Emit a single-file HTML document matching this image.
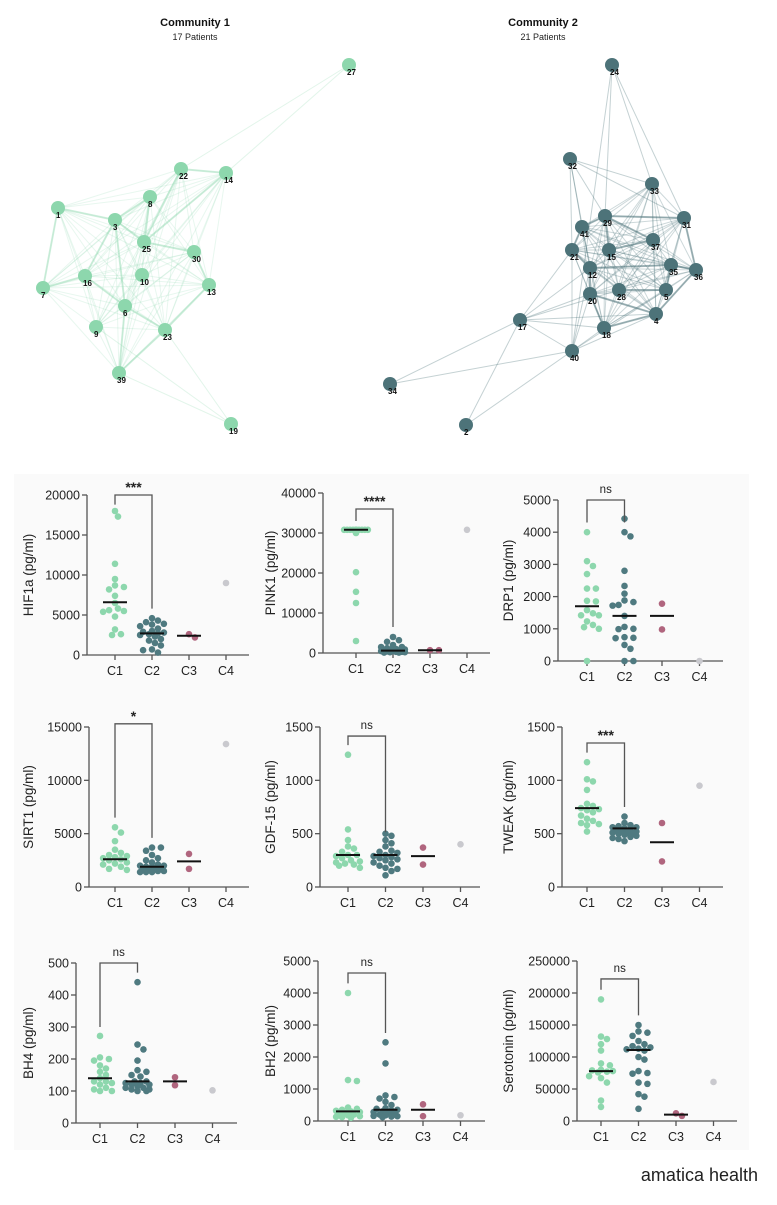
<!DOCTYPE html>
<html><head><meta charset="utf-8">
<style>
html,body{margin:0;padding:0;background:#fff;}
body{width:777px;height:1200px;overflow:hidden;font-family:"Liberation Sans",sans-serif;}
svg text{font-family:"Liberation Sans",sans-serif;}
</style></head>
<body>
<svg id="fig" width="777" height="1200" viewBox="0 0 777 1200" xmlns="http://www.w3.org/2000/svg">
<rect x="0" y="0" width="777" height="1200" fill="#ffffff"/>
<rect x="14" y="474" width="735" height="676" fill="#fafafa"/>
<g id="net"></g>
<g id="plots"></g>
<text x="758" y="1181" text-anchor="end" font-size="18" fill="#222">amatica health</text>
</svg>
<script>
// ---------- network data ----------
const c1Nodes=[["27",349,65],["22",181,169],["14",226,173],["1",58,208],["8",150,197],["3",115,220],["25",144,242],["30",194,252],["10",142,275],["16",85,276],["7",43,288],["13",209,285],["6",125,306],["9",96,327],["23",165,330],["39",119,373],["19",231,424]];
const c1Core=["22","14","1","8","3","25","30","10","16","7","13","6","9","23","39"];
const c1Strong=[["22","14"],["1","7"],["3","8"],["3","25"],["25","30"],["16","6"],["6","23"],["23","13"],["3","16"],["39","23"],["39","6"],["1","3"],["22","25"],["14","25"],["7","16"],["30","13"],["3","6"],["8","25"]];
const c1Extra=[["27","22"],["27","14"],["19","39"],["19","23"],["19","9"]];
const c2Nodes=[["24",612,65],["32",570,159],["33",652,184],["31",684,218],["29",605,216],["41",582,227],["15",609,250],["37",653,240],["21",572,250],["12",590,268],["35",671,265],["36",696,270],["20",590,294],["28",619,290],["5",666,290],["4",656,314],["18",604,328],["17",520,320],["40",572,351],["34",390,384],["2",466,425]];
const c2Core=["29","41","15","37","21","12","35","36","20","28","5","4","18","31","33"];
const c2Strong=[["29","31"],["31","36"],["36","4"],["35","36"],["12","20"],["20","18"],["18","4"],["29","15"],["21","12"],["41","21"],["15","37"],["28","5"],["5","35"],["12","35"],["29","37"],["20","4"],["41","29"]];
const c2Extra=[["32","41"],["32","21"],["32","29"],["32","33"],["32","31"],["32","12"],["24","33"],["24","31"],["24","29"],["24","40"],["17","21"],["17","12"],["17","20"],["17","18"],["17","40"],["17","4"],["17","28"],["40","20"],["40","18"],["40","4"],["40","5"],["40","12"],["40","21"],["34","17"],["34","40"],["2","17"],["2","40"]];

const NS="http://www.w3.org/2000/svg";
function mk(tag,attrs,parent){const e=document.createElementNS(NS,tag);for(const k in attrs)e.setAttribute(k,attrs[k]);parent.appendChild(e);return e;}

function drawNet(nodes,core,strong,extra,col,idx,cx,count,baseOp){
  const g=mk('g',{},document.getElementById('net'));
  
  
  const pos={};nodes.forEach(n=>pos[n[0]]=[n[1],n[2]]);
  const eg=mk('g',{},g);
  function edge(a,b,w,o){const l=mk('line',{x1:pos[a][0],y1:pos[a][1],x2:pos[b][0],y2:pos[b][1],stroke:col,'stroke-width':w,'stroke-opacity':o},eg);
    
    }
  for(let i=0;i<core.length;i++)for(let j=i+1;j<core.length;j++)edge(core[i],core[j],1,baseOp);
  extra.forEach(e=>edge(e[0],e[1],1,baseOp+0.05));
  strong.forEach(e=>edge(e[0],e[1],2,baseOp+0.2));
  nodes.forEach(n=>{
    const c=mk('circle',{cx:n[1],cy:n[2],r:7,fill:col},g);
    
    
    const t=mk('text',{x:n[1]-2,y:n[2]+10,'font-size':8,'font-weight':'bold',fill:'#111'},g);
    t.textContent=n[0];
    
    
  });
  const t1=mk('text',{x:cx,y:26,'text-anchor':'middle','font-size':11,'font-weight':'bold',fill:'#111'},g);
  t1.textContent='Community '+idx;
  
  
  const t2=mk('text',{x:cx,y:40,'text-anchor':'middle','font-size':9,fill:'#222'},g);
  t2.textContent=count+' Patients';
  
  
}
drawNet(c1Nodes,c1Core,c1Strong,c1Extra,'#8dd7ad',1,195,17,0.2);
drawNet(c2Nodes,c2Core,c2Strong,c2Extra,'#4d7379',2,543,21,0.28);

// ---------- scatter data ----------
const categories=["C1","C2","C3","C4"];
const hif1aC1=[18000,17300,11400,9500,8700,8500,8200,7400,6500,5800,5600,5500,5400,4800,3200,2600,2500];
const hif1aC2=[4600,4300,4100,3900,3800,3600,3300,3000,2900,2800,2700,2600,2500,2300,2000,1800,1500,1200,700,600,300];
const hif1aC3=[2200,2600]; const hif1aC4=[9000]; const hif1aLines=[6600,2700,2400];
const pink1C1=[30800,30800,30800,30800,30800,30800,30800,30800,30800,30800,30800,30000,20200,15300,12500,3000,30800];
const pink1C2=[4000,3200,2800,2000,1500,1500,1200,1000,900,800,700,600,500,500,400,300,300,200,200,100,100];
const pink1C3=[700,700]; const pink1C4=[30800]; const pink1Lines=[30800,600,700];
const drp1C1=[4000,3100,2950,2700,2250,2250,1870,1850,1580,1480,1420,1420,1230,1120,1050,1000,0];
const drp1C2=[4420,4000,3870,2800,2330,2090,1880,1830,1740,1720,1400,1060,1000,990,740,720,710,500,380,0,0];
const drp1C3=[1780,980]; const drp1C4=[0]; const drp1Lines=[1700,1400,1400];
const sirt1C1=[5600,5100,4300,3500,3200,3000,2900,2800,2700,2600,2500,2300,2200,2100,1900,1700,1600];
const sirt1C2=[3700,3700,3400,3000,2700,2500,2300,2100,2000,2000,1900,1900,1800,1700,1600,1600,1500,1500,1400,1400,1400];
const sirt1C3=[3100,1700]; const sirt1C4=[13400]; const sirt1Lines=[2600,1900,2400];
const gdfC1=[1240,540,440,380,360,330,300,300,290,270,250,240,230,220,210,200,180];
const gdfC2=[500,480,440,410,380,340,330,320,300,290,280,270,260,250,230,220,200,180,170,150,110];
const gdfC3=[370,210]; const gdfC4=[400]; const gdfLines=[300,300,290];
const tweakC1=[1170,1010,990,910,780,760,740,730,720,700,670,640,620,600,590,580,520];
const tweakC2=[660,600,580,570,560,560,550,540,540,530,520,510,510,500,500,490,480,470,460,450,430];
const tweakC3=[600,240]; const tweakC4=[950]; const tweakLines=[740,550,420];
const bh4C1=[272,205,200,195,180,170,160,150,140,130,130,125,120,110,105,100,100];
const bh4C2=[440,245,230,195,165,160,150,145,130,130,125,125,120,120,115,110,110,105,105,100,100];
const bh4C3=[143,118]; const bh4C4=[102]; const bh4Lines=[140,130,130];
const bh2C1=[4000,1280,1250,420,380,350,320,300,280,250,230,200,180,150,130,120,100];
const bh2C2=[2460,1800,800,750,700,600,500,400,380,350,330,300,280,250,220,200,180,160,150,140,120];
const bh2C3=[520,150]; const bh2C4=[180]; const bh2Lines=[300,350,350];
const seroC1=[190000,132000,128000,120000,110000,90000,87000,80000,79000,78000,77000,76000,70000,67000,60000,32000,22000];
const seroC2=[150000,140000,138000,133000,125000,120000,117000,115000,113000,112000,110000,100000,96000,78000,75000,74000,60000,58000,42000,38000,19000];
const seroC3=[8000,12000]; const seroC4=[61000]; const seroLines=[78000,111000,10000];
const yMaxes=[20000,40000,5000,15000,1500,1500,500,5000,250000];
const yStepCounts=[4,4,5,3,3,3,5,5,5];
const yTitles=["HIF1a (pg/ml)","PINK1 (pg/ml)","DRP1 (pg/ml)","SIRT1 (pg/ml)","GDF-15 (pg/ml)","TWEAK (pg/ml)","BH4 (pg/ml)","BH2 (pg/ml)","Serotonin (pg/ml)"];
const sigLabels=["***","****","ns","*","ns","***","ns","ns","ns"];
const bracketTops=[20000,36000,5000,15300,1415,1350,500,4625,222000];
const bracketLegs=[[18800,5800],[33000,6500],[4300,4300],[6500,4600],[1330,515],[1260,750],[300,470],[4300,2750],[205000,165000]];

const series=[[hif1aC1,hif1aC2,hif1aC3,hif1aC4],[pink1C1,pink1C2,pink1C3,pink1C4],[drp1C1,drp1C2,drp1C3,drp1C4],
 [sirt1C1,sirt1C2,sirt1C3,sirt1C4],[gdfC1,gdfC2,gdfC3,gdfC4],[tweakC1,tweakC2,tweakC3,tweakC4],
 [bh4C1,bh4C2,bh4C3,bh4C4],[bh2C1,bh2C2,bh2C3,bh2C4],[seroC1,seroC2,seroC3,seroC4]];
const lines=[hif1aLines,pink1Lines,drp1Lines,sirt1Lines,gdfLines,tweakLines,bh4Lines,bh2Lines,seroLines];

// layout (pixels): axisX, top, bottom, firstCatX, catStep, axisEnd, titleX
const layout=[[87,495,655,115,37,249,33],[323,493,653,356,37,490,275],[558,500,661,587,37.5,723,513],
 [89,727,887,115,37,249,33],[320,727,887,348,37.5,480,275],[562,727,887,587,37.5,723,513],
 [76,963,1123,100,37.5,237,33],[318,961,1121,348,37.5,485,275],[577,961,1121,601,37.5,737,513]];
const colors=["#8dd7ad","#4f7a80","#b0657e","#c9c9ce"];

function swarm(vals,ys,r,cap){
  const placed=[];const out=[];
  const order=vals.map((v,i)=>i).sort((a,b)=>vals[b]-vals[a]);
  order.forEach(i=>{const y=ys(vals[i]);let best=null,bestScore=-1;
    for(let k=0;k<40;k++){const cand=k===0?0:(k%2?1:-1)*Math.ceil(k/2)*r*0.9;
      if(Math.abs(cand)>cap)break;
      let md=99;placed.forEach(p=>{md=Math.min(md,Math.hypot(p[0]-cand,p[1]-y));});
      if(md>=2*r-0.3){best=cand;break;}
      if(md>bestScore){bestScore=md;best=cand;}}
    placed.push([best,y]);out[i]=best;});
  return out;
}

const P=document.getElementById('plots');
const names=["hif1a","pink1","drp1","sirt1","gdf15","tweak","bh4","bh2","serotonin"];
layout.forEach((L,p)=>{
  const [ax,top,bot,c0,cs,aend,tx]=L;
  const g=mk('g',{},P);
  
  
  const ys=v=>bot-(v/yMaxes[p])*(bot-top);
  const xs=i=>c0+i*cs;
  const axc='#555';
  const ya=mk('line',{x1:ax,y1:top,x2:ax,y2:bot,stroke:axc,'stroke-width':1.3},g);
  
  
  const xa=mk('line',{x1:ax,y1:bot,x2:aend,y2:bot,stroke:axc,'stroke-width':1.3},g);
  
  
  const n=yStepCounts[p];
  for(let k=0;k<=n;k++){const v=yMaxes[p]*k/n;const y=ys(v);
    mk('line',{x1:ax-5,y1:y,x2:ax,y2:y,stroke:axc,'stroke-width':1.3},g);
    const t=mk('text',{x:ax-7,y:y+4.5,'text-anchor':'end','font-size':12.5,fill:'#222'},g);t.textContent=String(v);
    
    }
  categories.forEach((c,i)=>{const x=xs(i);
    mk('line',{x1:x,y1:bot,x2:x,y2:bot+5,stroke:axc,'stroke-width':1.3},g);
    const t=mk('text',{x:x,y:bot+20,'text-anchor':'middle','font-size':12.5,fill:'#222'},g);t.textContent=c;
    
    });
  const yt=mk('text',{x:0,y:0,transform:`translate(${tx},${(top+bot)/2}) rotate(-90)`,'text-anchor':'middle','font-size':13.5,fill:'#222'},g);
  yt.textContent=yTitles[p];
  
  
  series[p].forEach((vals,ci)=>{
    const offs=swarm(vals,ys,3.3,13);
    vals.forEach((v,i)=>{const d=mk('circle',{cx:xs(ci)+offs[i],cy:ys(v),r:3.3,fill:colors[ci]},g);
      
      });
  });
  lines[p].forEach((v,ci)=>{const x=xs(ci);
    const l=mk('line',{x1:x-12,y1:ys(v),x2:x+12,y2:ys(v),stroke:'#111','stroke-width':2},g);
    
    });
  const bt=ys(bracketTops[p]);
  const br=mk('path',{d:`M${xs(0)},${ys(bracketLegs[p][0])} V${bt} H${xs(1)} V${ys(bracketLegs[p][1])}`,fill:'none',stroke:axc,'stroke-width':1.3},g);
  
  
  const ns=sigLabels[p]==='ns';
  const st=mk('text',{x:(xs(0)+xs(1))/2,y:ns?bt-7:bt-3,'text-anchor':'middle','font-size':ns?11.5:14,'font-weight':ns?'normal':'bold',fill:'#222'},g);
  st.textContent=sigLabels[p];
  
  
});
</script>
</body></html>
